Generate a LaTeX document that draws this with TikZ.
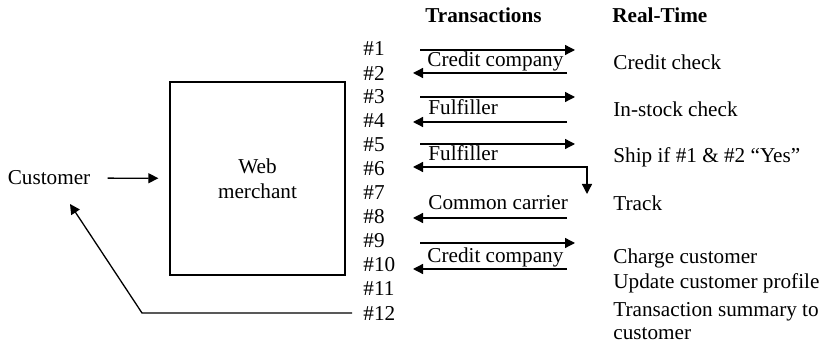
\documentclass[tikz,border=0pt]{standalone}
\usepackage{fontspec}
\setmainfont{Liberation Serif}
\usetikzlibrary{arrows.meta}
\usetikzlibrary{positioning}

\tikzset{
    ftri/.tip={Triangle[length=5pt,width=5pt]},
    txt/.style={font=\fontsize{10.6}{12.5}\selectfont, inner sep=0pt},
    hdr/.style={txt, font=\fontsize{10.6}{12.5}\selectfont\bfseries},
    msg/.style={-ftri, line width=0.65pt},
}

\begin{document}
\begin{tikzpicture}[x=0.5pt,y=-0.5pt]
        \useasboundingbox (0,0) rectangle (824,351);

        % column heads
        \node[hdr, anchor=west] (trans) at (425,15) {Transactions};
        \node[hdr, anchor=west] (realt) at (612,15) {Real-Time};

        % step numbers
        \foreach \i in {1,...,12}
            \node[txt, anchor=west] (n\i) at (363,{49+24*(\i-1)}) {\#\i};

        % customer and merchant
        \node[txt] (cust) at (49,178) {Customer};
        \node[txt, draw, line width=0.65pt, align=center,
              minimum width=87.5pt, minimum height=96.5pt] (web) at (257.5,178.5) {Web\\merchant};
        \draw[msg, shorten <=8.5pt, shorten >=5.5pt] (cust) -- (web);

        \coordinate (ret) at (142,313);
        \coordinate (custin) at (70,204);
        \draw[msg, shorten <=5.5pt] (n12.west) -- (ret) -- (custin);

        % transactions
        \foreach \i/\y in {1/50,3/97,5/144,9/243} {
            \coordinate (from\i) at (420,\y);
            \coordinate (to\i) at (575,\y);
            \draw[msg] (from\i) -- (to\i);
        }
        \foreach \i/\y in {2/73,4/122,8/218,10/269} {
            \coordinate (from\i) at (567,\y);
            \coordinate (to\i) at (413,\y);
            \draw[msg] (from\i) -- (to\i);
        }
        \coordinate (to6) at (413,167);
        \coordinate (bend6) at (587,167);
        \coordinate (down6) at (587,194);
        \draw[msg, ftri-ftri] (to6) -- (bend6) -- (down6);

        \node[txt, anchor=base west] (cc1) at (427,67) {Credit company};
        \node[txt, anchor=base west] (ff1) at (428,115) {Fulfiller};
        \node[txt, anchor=base west] (ff2) at (428,161) {Fulfiller};
        \node[txt, anchor=base west] (carrier) at (428,210) {Common carrier};
        \node[txt, anchor=base west] (cc2) at (427,263) {Credit company};

        % real-time actions
        \node[txt, anchor=west] (rt1) at (613,62) {Credit check};
        \node[txt, anchor=west] (rt3) at (613,109) {In-stock check};
        \node[txt, anchor=west] (rt5) at (613,157) {Ship if \#1 \& \#2 ``Yes''};
        \node[txt, anchor=west] (rt7) at (613,203) {Track};
        \node[txt, anchor=west] (rt9) at (613,258) {Charge customer};
        \node[txt, anchor=west] (rt11) at (613,283) {Update customer profile};
        \node[txt, anchor=north west, align=left,
              font=\fontsize{10.6}{11.5}\selectfont] (rt12) at (613,302) {Transaction summary to\\customer};
\end{tikzpicture}
\end{document}
